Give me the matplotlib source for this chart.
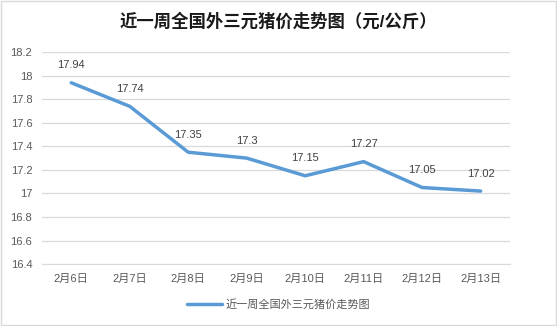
import matplotlib
matplotlib.use('Agg')
import matplotlib.pyplot as plt
from matplotlib.patches import Rectangle

plt.rcParams['font.family'] = ['Liberation Sans', 'Noto Sans CJK SC', 'DejaVu Sans']

dates = ['2月6日', '2月7日', '2月8日', '2月9日', '2月10日', '2月11日', '2月12日', '2月13日']
prices = [17.94, 17.74, 17.35, 17.3, 17.15, 17.27, 17.05, 17.02]
yticks = [16.4, 16.6, 16.8, 17, 17.2, 17.4, 17.6, 17.8, 18, 18.2]
series_name = '近一周全国外三元猪价走势图'
title = '近一周全国外三元猪价走势图（元/公斤）'

fig = plt.figure(figsize=(5.57, 3.26), dpi=100)
ax = fig.add_axes([0.0754, 0.190, 0.840, 0.650])

x = list(range(len(dates)))
ax.plot(x, prices, color='#5B9BD5', lw=2.5, solid_capstyle='round', label=series_name, zorder=3)
for xi, v in zip(x, prices):
    ax.annotate('%g' % v, (xi, v), xytext=(0, 9), textcoords='offset points',
                ha='center', va='bottom', fontsize=8, color='#404040')

ax.set_xlim(-0.5, len(dates) - 0.5)
ax.set_ylim(16.4, 18.2)
ax.set_yticks(yticks)
ax.set_yticklabels(['%g' % t for t in yticks])
ax.set_xticks(x)
ax.set_xticklabels(dates)
ax.grid(axis='y', color='#D9D9D9', lw=0.9)
ax.set_axisbelow(True)
for s in ['top', 'right', 'left']:
    ax.spines[s].set_visible(False)
ax.spines['bottom'].set_color('#D9D9D9')
ax.tick_params(length=0, labelsize=8, colors='#595959', pad=7)

fig.text(0.5, 0.935, title, ha='center', va='center', fontsize=12.5, fontweight='bold', color='#1a1a1a')
fig.legend(loc='center', bbox_to_anchor=(0.5, 0.065), frameon=False, fontsize=8,
           handlelength=3.2, handletextpad=0.3, labelcolor='#595959')

fig.patches.append(Rectangle((0.002, 0.004), 0.996, 0.992, transform=fig.transFigure,
                             fill=False, edgecolor='#D9D9D9', lw=1))
fig.savefig('out.png', dpi=100, facecolor='white')
